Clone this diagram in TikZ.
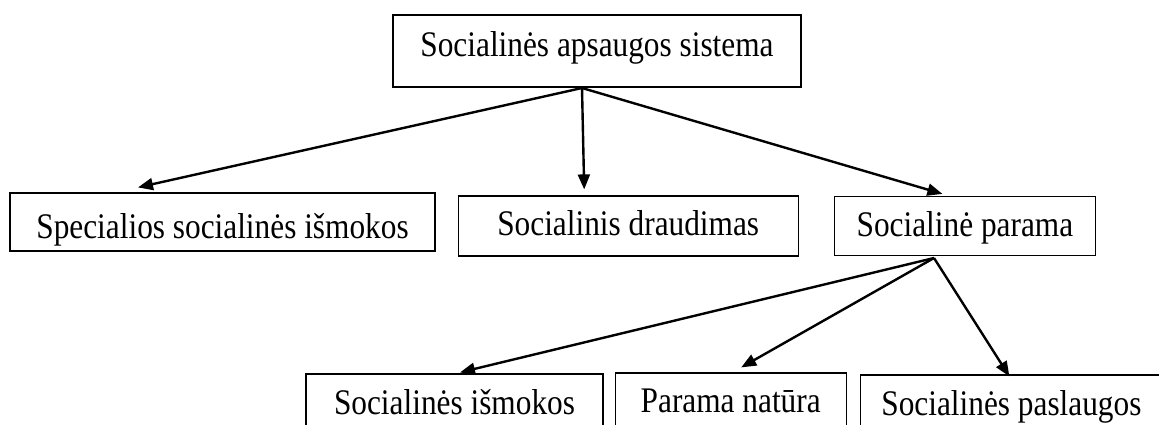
\documentclass[tikz,border=0pt]{standalone}
\usepackage{fontspec}
\setmainfont[FakeStretch=0.87]{Liberation Serif}
\usetikzlibrary{calc,positioning,arrows.meta}

\begin{document}
\begin{tikzpicture}[x=1pt,y=-1pt,
	box/.style={draw,line width=1.2pt,inner sep=0pt,font=\fontsize{36}{42}\selectfont},
	arr/.style={-{Triangle[length=15pt,width=12pt]},line width=2.4pt}]
	\clip (0,0) rectangle (1159,424);
	\fill[white] (0,0) rectangle (1159,424);
	\begin{scope}
		\node(sistema) [box,minimum width=408pt,text height=41pt,text depth=31pt] at (597,51) {Socialinės apsaugos sistema};
		\node(spec) [box,minimum width=425pt,text height=45pt,text depth=13pt] at (222.5,222) {Specialios socialinės išmokos};
		\node(draud) [box,minimum width=340pt,text height=39pt,text depth=21pt,right=22pt of spec,yshift=-4pt] {Socialinis draudimas};
		\node(parama) [box,minimum width=261pt,text height=40pt,text depth=19pt,right=35pt of draud] {Socialinė parama};
		\node(ismok) [box,minimum width=297pt,text height=40pt,text depth=18pt] at (454.5,403) {Socialinės išmokos};
		\node(natura) [box,minimum width=231pt,text height=39pt,text depth=19pt,right=11pt of ismok,yshift=1pt] {Parama natūra};
		\node(paslaug) [box,minimum width=302pt,text height=40pt,text depth=18pt,right=13pt of natura,yshift=-2pt] {Socialinės paslaugos};
	\end{scope}
	% arrow start and end points
	\coordinate (s0) at (582,88);
	\coordinate (s1) at (934,258);
	\coordinate (t1) at ([xshift=-84.5pt,yshift=5pt]spec.north);
	\coordinate (t2) at ([xshift=-44pt,yshift=6pt]draud.north);
	\coordinate (t3) at ([xshift=-22.5pt,yshift=2pt]parama.north);
	\coordinate (t4) at ([xshift=5.5pt,yshift=1pt]ismok.north);
	\coordinate (t5) at ([xshift=10.5pt,yshift=5pt]natura.north);
	\coordinate (t6) at ([xshift=-2pt,yshift=-2pt]paslaug.north);
	\path[arr]
		(s0) edge (t1)
		(s0) edge (t2)
		(s0) edge (t3)
		(s1) edge (t4)
		(s1) edge (t5)
		(s1) edge (t6);
\end{tikzpicture}
\end{document}
